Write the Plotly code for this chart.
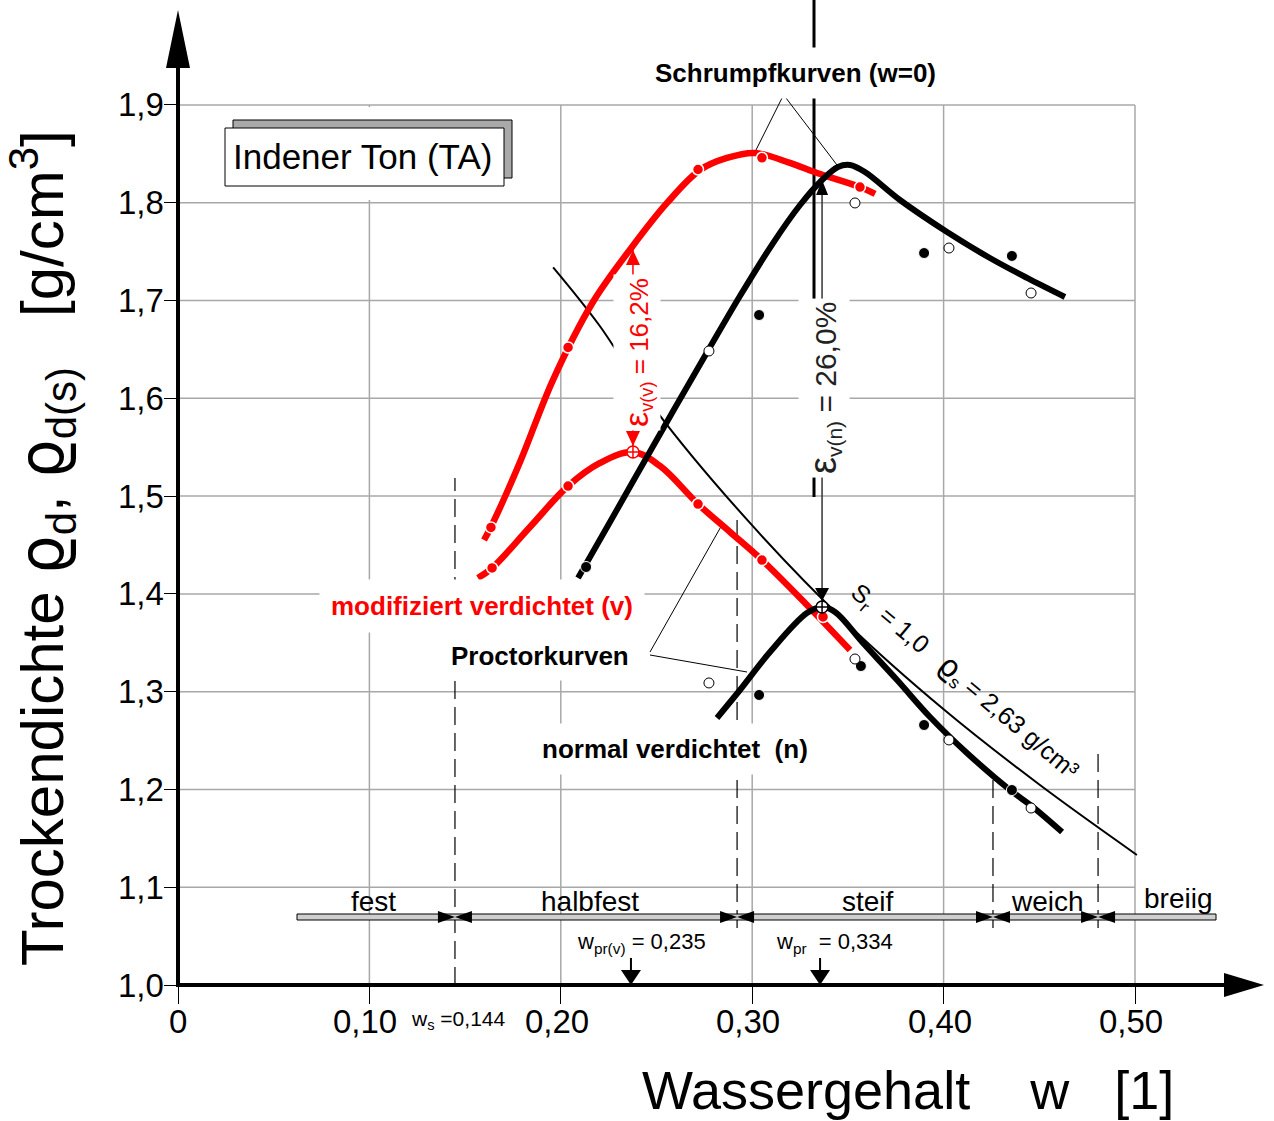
import plotly.graph_objects as go

# ---------------- data ----------------
# modified compaction (v) - shrinkage curve (upper red)
mod_shr_w = [0.1635, 0.2038, 0.2717, 0.3051, 0.3563]
mod_shr_rho = [1.468, 1.652, 1.834, 1.846, 1.816]
mod_shr_curve_w = [0.1599, 0.1635, 0.1787, 0.1959, 0.2168, 0.2372, 0.2555, 0.2727,
                   0.2868, 0.3015, 0.3197, 0.3339, 0.3563, 0.3642]
mod_shr_curve_rho = [1.4551, 1.4684, 1.5349, 1.6187, 1.6985, 1.7548, 1.7998, 1.8335,
                     1.8458, 1.8509, 1.8407, 1.8304, 1.8161, 1.8090]

# modified Proctor curve (lower red)
mod_pr_w = [0.1641, 0.2038, 0.2717, 0.3051, 0.3370]
mod_pr_rho = [1.4265, 1.5103, 1.4919, 1.4346, 1.3764]
mod_pr_curve_w = [0.1567, 0.1641, 0.1839, 0.2038, 0.2205, 0.2377, 0.2518, 0.2717,
                  0.2884, 0.3051, 0.3281, 0.3511]
mod_pr_curve_rho = [1.4162, 1.4265, 1.4684, 1.5103, 1.5339, 1.5451, 1.5308, 1.4919,
                    1.4633, 1.4346, 1.3897, 1.3426]

# normal compaction (n) - shrinkage curve (upper black)
nor_shr_fill_w = [0.2132, 0.3036, 0.3898, 0.4357]
nor_shr_fill_rho = [1.4275, 1.6852, 1.7486, 1.7456]
nor_shr_open_w = [0.2774, 0.3537, 0.4028, 0.4457]
nor_shr_open_rho = [1.6484, 1.7998, 1.7537, 1.7077]
nor_shr_curve_w = [0.2090, 0.2257, 0.2429, 0.2602, 0.2774, 0.2936, 0.3109, 0.3250,
                   0.3365, 0.3448, 0.3511, 0.3589, 0.3772, 0.4018, 0.4242, 0.4436, 0.4634]
nor_shr_curve_rho = [1.4162, 1.4735, 1.5328, 1.5921, 1.6504, 1.7046, 1.7588, 1.7977,
                     1.8233, 1.8366, 1.8386, 1.8314, 1.8028, 1.7701, 1.7435, 1.7231, 1.7036]

# normal Proctor curve (lower black)
nor_pr_fill_w = [0.3036, 0.3568, 0.3898, 0.4357]
nor_pr_fill_rho = [1.2966, 1.3262, 1.2659, 1.1994]
nor_pr_open_w = [0.2774, 0.3537, 0.4028, 0.4457]
nor_pr_open_rho = [1.3089, 1.3334, 1.2506, 1.1810]
nor_pr_curve_w = [0.2816, 0.2936, 0.3093, 0.3286, 0.3365, 0.3433, 0.3579, 0.3757,
                  0.3929, 0.4122, 0.4347, 0.4467, 0.4619]
nor_pr_curve_rho = [1.2731, 1.3017, 1.3406, 1.3804, 1.3866, 1.3815, 1.3498, 1.3119,
                    1.2741, 1.2373, 1.1994, 1.1820, 1.1565]

# Proctor optima (v, n)
opt_w = [0.2377, 0.3365]
opt_rho = [1.5451, 1.3866]
opt_shr_rho = [1.7517, 1.8233]      # shrinkage curve above each optimum
opt_labels = ["w<sub>pr(v)</sub> = 0,235", "w<sub>pr</sub>\u00a0 = 0,334"]
eps_labels = ["16,2%", "26,0%"]

# saturation line Sr = 1,0 (rho_s = 2,63 g/cm3)
sat_w = [0.196, 0.22, 0.25, 0.30, 0.35, 0.40, 0.45, 0.501]
sat_rho = [1.734, 1.675, 1.587, 1.470, 1.369, 1.282, 1.205, 1.133]

# consistency limits and states
limit_w = [0.1447, 0.2921, 0.4258, 0.4807]
state_names = ["fest", "halbfest", "steif", "weich", "breiig"]
state_w = [0.1024, 0.2153, 0.3605, 0.4545, 0.5225]

x_tickvals = [0, 0.1, 0.2, 0.3, 0.4, 0.5]
x_ticktext = ["0", "0,10", "0,20", "0,30", "0,40", "0,50"]
y_tickvals = [1.0, 1.1, 1.2, 1.3, 1.4, 1.5, 1.6, 1.7, 1.8, 1.9]
y_ticktext = ["1,0", "1,1", "1,2", "1,3", "1,4", "1,5", "1,6", "1,7", "1,8", "1,9"]

# ---------------- geometry helpers ----------------
W, H = 1274, 1121
ML, MR, MT, MB = 178, 12, 0, 136
PXW = 1914.0    # pixels per unit water content
PXR = 977.8     # pixels per g/cm3
X_MAX = (W - ML - MR) / PXW
Y_MAX = 1.0 + (H - MT - MB) / PXR
FONT = "Liberation Sans, Arial, sans-serif"
RED = "#ff0000"
GRID = "#a8a8a8"


def dx(px):
    return (px - ML) / PXW


def dy(py):
    return 1.0 + (985 - py) / PXR


def pw(w):
    return ML + w * PXW


def pr(r):
    return 985 - (r - 1.0) * PXR


def paper_x(px):
    return (px - ML) / (W - ML - MR)


def paper_y(py):
    return (H - MB - py) / (H - MT - MB)


def P(px, py):
    return f"{dx(px):.6f},{dy(py):.6f}"


def tri(tipx, tipy, direction, length=16, half=8):
    if direction == "right":
        pts = [(tipx, tipy), (tipx - length, tipy - half), (tipx - length, tipy + half)]
    elif direction == "left":
        pts = [(tipx, tipy), (tipx + length, tipy - half), (tipx + length, tipy + half)]
    elif direction == "up":
        pts = [(tipx, tipy), (tipx - half, tipy + length), (tipx + half, tipy + length)]
    else:
        pts = [(tipx, tipy), (tipx - half, tipy - length), (tipx + half, tipy - length)]
    return "M " + " L ".join(P(a, b) for a, b in pts) + " Z"


def tri_paper(pts):
    return "M " + " L ".join(f"{paper_x(a):.6f},{paper_y(b):.6f}" for a, b in pts) + " Z"


shapes = []


def line(x0, y0, x1, y1, color="black", width=1, dash=None, layer="below"):
    d = dict(type="line", x0=x0, y0=y0, x1=x1, y1=y1, xref="x", yref="y",
             line=dict(color=color, width=width), layer=layer)
    if dash:
        d["line"]["dash"] = dash
    shapes.append(d)


def path(p, color="black", layer="below", ref="x"):
    shapes.append(dict(type="path", path=p, xref="x" if ref == "x" else "paper",
                       yref="y" if ref == "x" else "paper",
                       fillcolor=color, line=dict(width=0), layer=layer))


# grid
for v in x_tickvals[1:]:
    line(v, 1.0, v, 1.9, GRID, 1.5)
for v in y_tickvals[1:]:
    line(0, v, 0.5, v, GRID, 1.5)

# white area behind the sample label
shapes.append(dict(type="rect", x0=dx(205), x1=dx(530), y0=dy(200), y1=dy(107),
                   xref="x", yref="y", fillcolor="white", line=dict(width=0), layer="below"))
# sample label box with shadow
shapes.append(dict(type="rect", x0=dx(233), x1=dx(512), y0=dy(178), y1=dy(120),
                   xref="x", yref="y", fillcolor="#a9a9a9", line=dict(color="black", width=1),
                   layer="below"))
shapes.append(dict(type="rect", x0=dx(225), x1=dx(504), y0=dy(186), y1=dy(128),
                   xref="x", yref="y", fillcolor="white", line=dict(color="black", width=1),
                   layer="below"))

# consistency limits (dashed)
limit_tops = [478, 518, 780, 752]
for i, lw in enumerate(limit_w):
    bottom = 1.0 if i == 0 else dy(928)
    line(lw, bottom, lw, dy(limit_tops[i]), "black", 1.2, dash="18px,8px")

# consistency bar
shapes.append(dict(type="rect", x0=dx(297), x1=dx(1216), y0=dy(920), y1=dy(914),
                   xref="x", yref="y", fillcolor="#cfcfcf", line=dict(color="black", width=1),
                   layer="below"))
for lw in limit_w:
    xp = pw(lw)
    path(tri(xp, 917, "right", 17, 6), layer="above")
    path(tri(xp, 917, "left", 17, 6), layer="above")

# optimum arrows on the x axis
for ow in opt_w:
    xp = pw(ow) - 2
    line(dx(xp), dy(958), dx(xp), dy(972), "black", 2)
    path(tri(xp, 985, "down", 15, 10), layer="above")

# epsilon arrows
xp_v = pw(opt_w[0])
line(opt_w[0], opt_rho[0], opt_w[0], opt_shr_rho[0], RED, 1.5)
path(tri(xp_v, pr(opt_shr_rho[0]), "up", 15, 7), RED, layer="above")
path(tri(xp_v, pr(opt_rho[0]) - 6, "down", 15, 7), RED, layer="above")

xp_n = pw(opt_w[1])
line(opt_w[1], opt_rho[1], opt_w[1], opt_shr_rho[1], "#333333", 1.5)
path(tri(xp_n, pr(opt_shr_rho[1]), "up", 15, 6), layer="above")
path(tri(xp_n, pr(opt_rho[1]) - 6, "down", 13, 7), layer="above")

# thick vertical line through the "Schrumpfkurven" label
line(dx(814), dy(0), dx(814), dy(497), "black", 3)

# leader lines
line(dx(782), dy(98), dx(755), dy(152), "black", 1)
line(dx(786), dy(98), dx(837), dy(165), "black", 1)
line(dx(650), dy(652), dx(723), dy(523), "black", 1)
line(dx(650), dy(655), dx(747), dy(672), "black", 1)

# axes with arrows (paper refs)
shapes.append(dict(type="line", xref="paper", yref="paper", x0=0, x1=0,
                   y0=paper_y(987), y1=paper_y(60), line=dict(color="black", width=4), layer="above"))
shapes.append(dict(type="line", xref="paper", yref="paper", x0=paper_x(176), x1=paper_x(1228),
                   y0=0, y1=0, line=dict(color="black", width=4), layer="above"))
path(tri_paper([(178, 10), (166, 68), (190, 68)]), ref="paper", layer="above")
path(tri_paper([(1264, 985), (1224, 973), (1224, 997)]), ref="paper", layer="above")

# ---------------- traces ----------------
fig = go.Figure()
fig.add_trace(go.Scatter(x=sat_w, y=sat_rho, mode="lines", line=dict(color="black", width=2, shape="spline"),
                         hoverinfo="skip"))
fig.add_trace(go.Scatter(x=mod_shr_curve_w, y=mod_shr_curve_rho, mode="lines",
                         line=dict(color=RED, width=6.5, shape="spline")))
fig.add_trace(go.Scatter(x=mod_pr_curve_w, y=mod_pr_curve_rho, mode="lines",
                         line=dict(color=RED, width=6.5, shape="spline")))
fig.add_trace(go.Scatter(x=nor_shr_curve_w, y=nor_shr_curve_rho, mode="lines",
                         line=dict(color="black", width=6, shape="spline")))
fig.add_trace(go.Scatter(x=nor_pr_curve_w, y=nor_pr_curve_rho, mode="lines",
                         line=dict(color="black", width=6, shape="spline")))

fig.add_trace(go.Scatter(x=mod_shr_w, y=mod_shr_rho, mode="markers",
                         marker=dict(size=11, color=RED, line=dict(color="white", width=1.5))))
fig.add_trace(go.Scatter(x=mod_pr_w, y=mod_pr_rho, mode="markers",
                         marker=dict(size=11, color=RED, line=dict(color="white", width=1.5))))
fig.add_trace(go.Scatter(x=nor_shr_fill_w + nor_pr_fill_w, y=nor_shr_fill_rho + nor_pr_fill_rho,
                         mode="markers",
                         marker=dict(size=11, color="black", line=dict(color="white", width=1))))
fig.add_trace(go.Scatter(x=nor_shr_open_w + nor_pr_open_w, y=nor_shr_open_rho + nor_pr_open_rho,
                         mode="markers",
                         marker=dict(size=10, color="white", line=dict(color="black", width=1))))
fig.add_trace(go.Scatter(x=[opt_w[0]], y=[opt_rho[0]], mode="markers",
                         marker=dict(symbol="circle-cross", size=12, color="white",
                                     line=dict(color=RED, width=1.5))))
fig.add_trace(go.Scatter(x=[opt_w[1]], y=[opt_rho[1]], mode="markers",
                         marker=dict(symbol="circle-cross", size=12, color="white",
                                     line=dict(color="black", width=1.5))))

# ---------------- annotations ----------------
anns = []


def ann(text, px, py, size, color="black", angle=0, bg=None, pad=1, xanchor="center"):
    anns.append(dict(x=paper_x(px), y=paper_y(py), xref="paper", yref="paper", text=text,
                     showarrow=False, textangle=angle, xanchor=xanchor, yanchor="middle",
                     font=dict(size=size, color=color, family=FONT),
                     bgcolor=bg if bg else "rgba(0,0,0,0)", borderpad=pad))


NB = "\u00a0"
RHO = '<span style="font-family:DejaVu Sans;font-size:{}px">ϱ</span>'

# tick labels
for v, t in zip(x_tickvals, x_ticktext):
    ann(t, pw(v) - (4 if v > 0 else 0), 1022, 33)
for v, t in zip(y_tickvals, y_ticktext):
    ann(t, 166, pr(v), 33, xanchor="right")

ann("Indener Ton (TA)", 362, 157, 35)
ann("<b>Schrumpfkurven (w=0)</b>", 795, 73, 26, bg="white", pad=10)
ann("<b>modifiziert verdichtet (v)</b>", 482, 606, 26, RED, bg="white", pad=11)
ann("<b>Proctorkurven</b>", 540, 656, 26, bg="white", pad=9)
ann("<b>normal verdichtet" + NB + NB + "(n)</b>", 675, 749, 26, bg="white", pad=10)

ann('<span style="font-size:34px">ε</span><sub>v(v)</sub> = ' + eps_labels[0],
    pw(opt_w[0]) + 4, 352, 26, RED, angle=-90, bg="white", pad=3)
ann('<span style="font-size:38px">ε</span><sub>v(n)</sub> = ' + eps_labels[1],
    pw(opt_w[1]) + 2, 388, 30, "#222222", angle=-90, bg="white", pad=3)

ann("S<sub>r</sub>" + NB + " = 1,0" + NB + NB + " " + RHO.format(30) + "<sub>s</sub> = 2,63 g/cm³",
    966, 680, 25, angle=40)

for name, sw in zip(state_names, state_w):
    ann(name, pw(sw), 901 if name != "breiig" else 898, 28)

ann(opt_labels[0], 641, 943, 22)
ann(opt_labels[1], 834, 943, 22)
ann("w<sub>s</sub> =0,144", 458, 1020, 21)

ann("Wassergehalt" + NB * 4 + "w" + NB * 3 + "[1]", 908, 1090, 54)
ann("Trockendichte " + RHO.format(62) + "<sub>d</sub>, "
    + RHO.format(62) + "<sub>d(s)</sub>" + NB * 3 + "[g/cm<sup>3</sup>]",
    42, 548, 60, angle=-90)

fig.update_layout(
    width=W, height=H,
    margin=dict(l=ML, r=MR, t=MT, b=MB, pad=0),
    paper_bgcolor="white", plot_bgcolor="white",
    showlegend=False,
    shapes=shapes, annotations=anns,
    xaxis=dict(range=[0, X_MAX], showgrid=False, zeroline=False, showline=False,
               tickmode="array", tickvals=x_tickvals, showticklabels=False,
               ticks="outside", ticklen=18, tickwidth=1, tickcolor="black"),
    yaxis=dict(range=[1.0, Y_MAX], showgrid=False, zeroline=False, showline=False,
               tickmode="array", tickvals=y_tickvals, showticklabels=False,
               ticks="outside", ticklen=13, tickwidth=1, tickcolor="black"),
)

fig.write_html("out.html")
